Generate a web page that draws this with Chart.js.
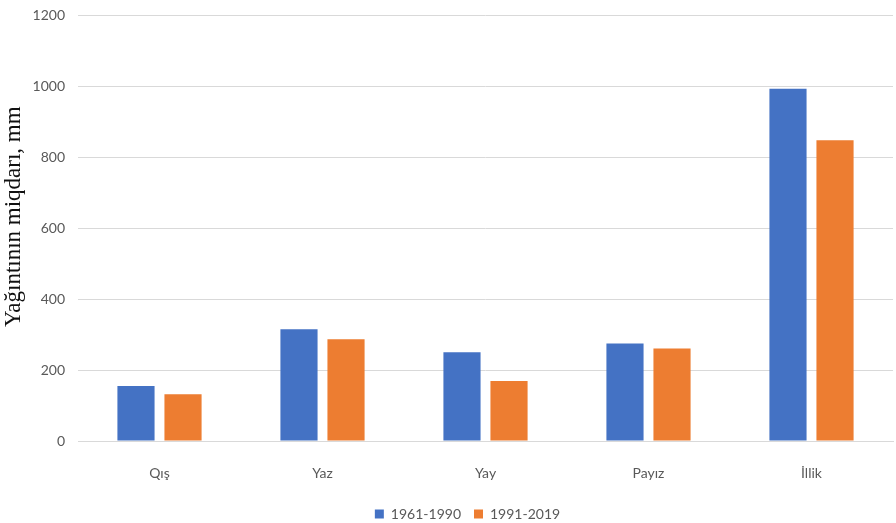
<!DOCTYPE html>
<html><head><meta charset="utf-8">
<script src="https://cdn.jsdelivr.net/npm/chart.js@4/dist/chart.umd.min.js"></script>
<style>html,body{margin:0;padding:0;background:#fff;overflow:hidden}#w{width:896px;height:529px;margin-top:-6px}</style>
</head><body><div id="w"><canvas id="c"></canvas></div>
<script>
const categories = ["Qış", "Yaz", "Yay", "Payız", "İllik"];
const series1961 = [155, 315, 250, 275, 993];
const series1991 = [132, 287, 169, 261, 848];
const seriesNames = ["1961-1990", "1991-2019"];
const yTitle = "Yağıntının miqdarı, mm";

const shiftLegend = {
  id: 'shiftLegend',
  afterLayout(chart) { chart.legend.left += 21; chart.legend.right += 21; chart.legend.top += 8; chart.legend.bottom += 8; }
};

new Chart(document.getElementById('c'), {
  type: 'bar',
  data: {
    labels: categories,
    datasets: [
      { label: seriesNames[0], data: series1961, backgroundColor: '#4472C4', categoryPercentage: 0.577, barPercentage: 0.79 },
      { label: seriesNames[1], data: series1991, backgroundColor: '#ED7D31', categoryPercentage: 0.577, barPercentage: 0.79 }
    ]
  },
  options: {
    responsive: true, maintainAspectRatio: false, animation: false,
    layout: { padding: { top: 0, right: 3, bottom: 0, left: 0 } },
    plugins: {
      legend: {
        position: 'bottom',
        labels: { font: { family: 'Lato', size: 14 }, color: '#595959', boxWidth: 9, boxHeight: 9, padding: 13 }
      },
      tooltip: { enabled: false }
    },
    scales: {
      x: {
        grid: { display: false },
        border: { display: true, color: '#d9d9d9' },
        ticks: { font: { family: 'Lato', size: 14 }, color: '#595959', padding: 16 },
        afterFit(s) { s.height = 45; }
      },
      y: {
        min: 0, max: 1200,
        ticks: { stepSize: 200, font: { family: 'Lato', size: 14 }, color: '#595959', padding: 13, callback: (v) => String(v) },
        grid: { color: '#d9d9d9', drawTicks: false },
        border: { display: false },
        title: { display: true, text: '    ' + yTitle, font: { family: 'Liberation Serif', size: 23, weight: 'normal' }, color: '#111', padding: 0 },
        afterFit(s) { s.width = 78; }
      }
    }
  },
  plugins: [shiftLegend]
});
</script></body></html>
